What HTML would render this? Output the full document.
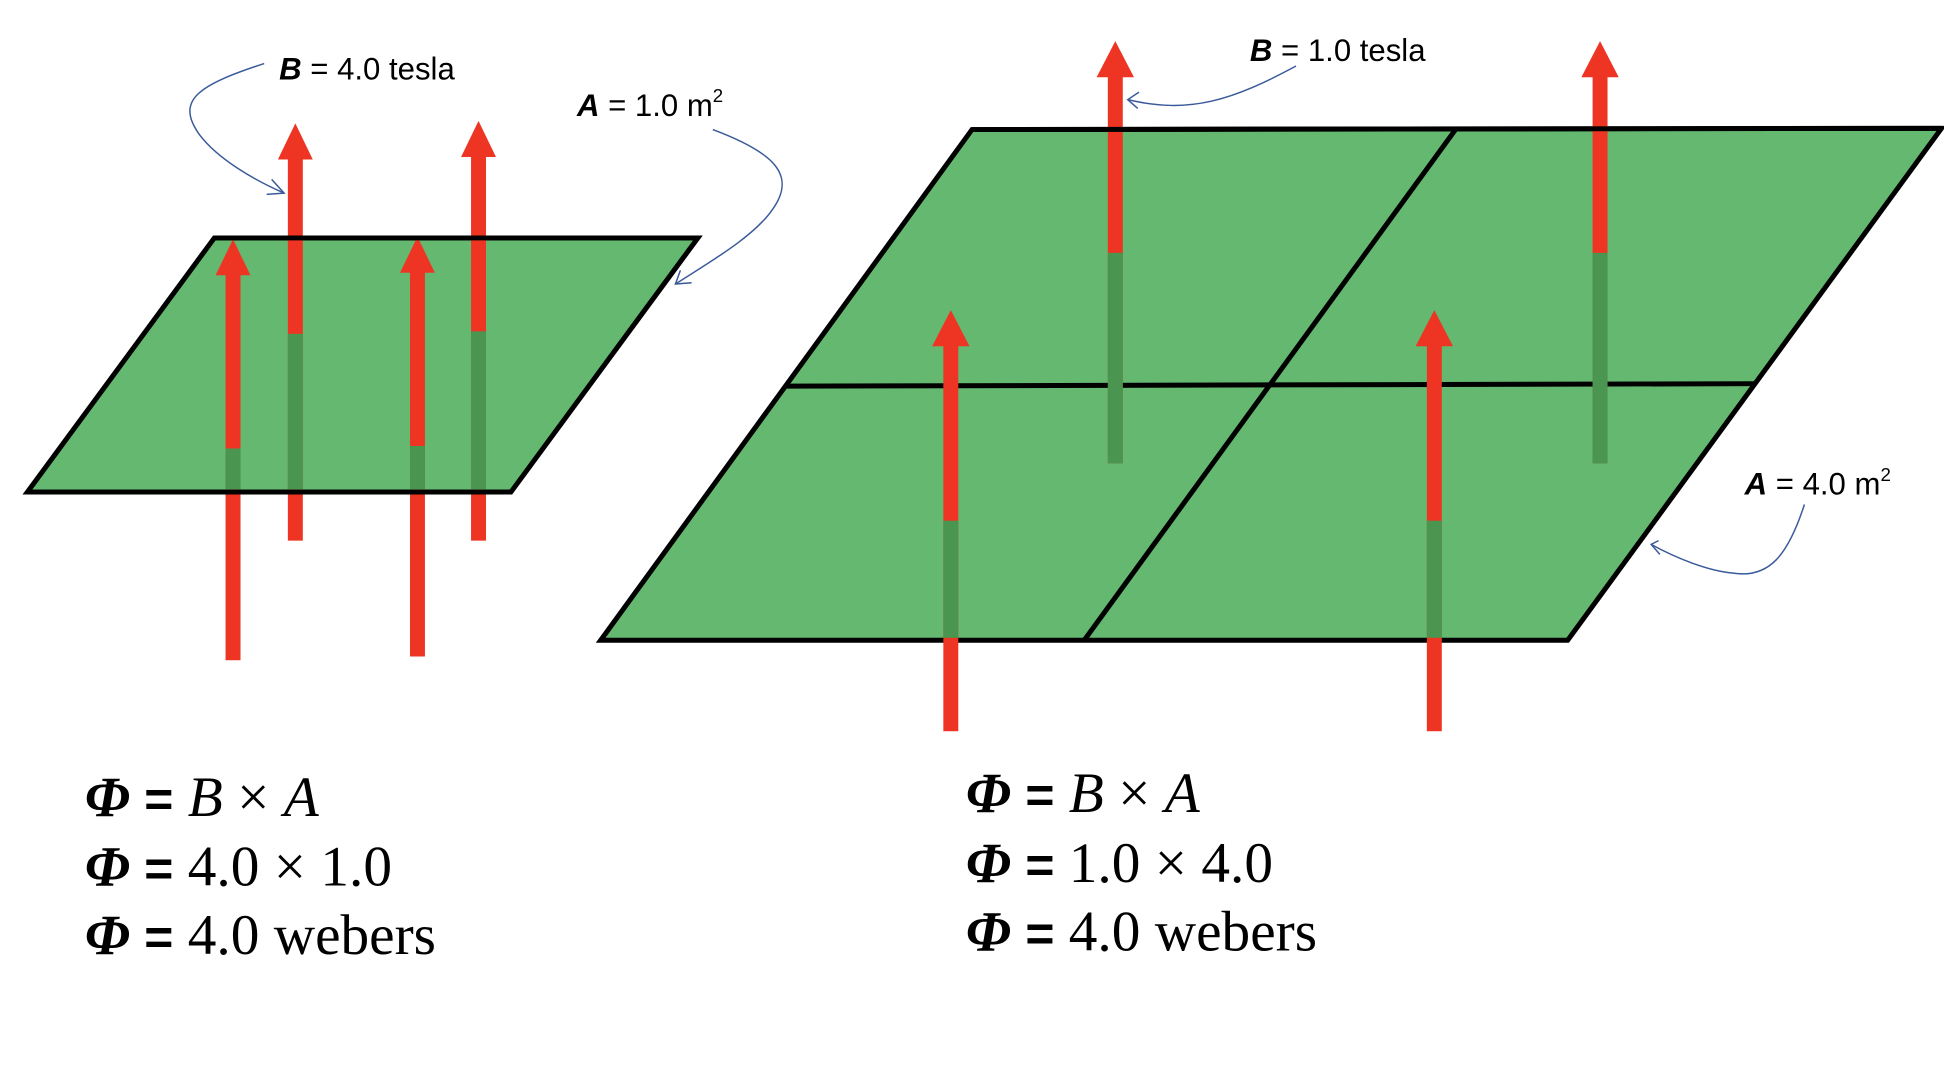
<!DOCTYPE html>
<html><head><meta charset="utf-8"><style>
html,body{margin:0;padding:0;background:#fff;}
svg{display:block}
.lab{font-family:"Liberation Sans",sans-serif;font-size:25px;fill:#000}
.f{font-family:"Liberation Serif",serif;font-size:46px;fill:#000}
</style></head><body>
<svg width="1944" height="1090" viewBox="0 0 1560 875" preserveAspectRatio="none" xmlns="http://www.w3.org/2000/svg">
<!-- left plane -->
<polygon points="172,191 560,191 410,395 22,395" fill="#64b870" stroke="#000" stroke-width="4"/>
<g fill="#ee3524">
<rect x="181" y="218" width="12" height="312"/><rect x="181" y="360" width="12" height="33" fill="#4a9650"/>
<polygon points="187,192 201,221 173,221"/>
<rect x="231" y="125" width="12" height="309"/><rect x="231" y="268" width="12" height="125" fill="#4a9650"/>
<polygon points="237,99 251,128 223,128"/>
<rect x="329" y="216" width="12" height="311"/><rect x="329" y="358" width="12" height="35" fill="#4a9650"/>
<polygon points="335,190 349,219 321,219"/>
<rect x="378" y="123" width="12" height="311"/><rect x="378" y="266" width="12" height="127" fill="#4a9650"/>
<polygon points="384,97 398,126 370,126"/>
</g>
<line x1="172" y1="191" x2="560" y2="191" stroke="#000" stroke-width="4"/>
<line x1="22" y1="395" x2="410" y2="395" stroke="#000" stroke-width="4"/>

<!-- right plane -->
<polygon points="780,104 1558,103 1258,514 482,514" fill="#64b870" stroke="#000" stroke-width="4"/>
<line x1="630" y1="310" x2="1408" y2="308" stroke="#000" stroke-width="4"/>
<line x1="1168" y1="104" x2="870" y2="514" stroke="#000" stroke-width="4"/>
<g fill="#ee3524">
<rect x="889" y="60" width="12" height="312"/><rect x="889" y="203" width="12" height="169" fill="#4a9650"/>
<polygon points="895,33 910,62 880,62"/>
<rect x="1278" y="60" width="12" height="312"/><rect x="1278" y="203" width="12" height="169" fill="#4a9650"/>
<polygon points="1284,33 1299,62 1269,62"/>
<rect x="757" y="275" width="12" height="312"/><rect x="757" y="418" width="12" height="94" fill="#4a9650"/>
<polygon points="763,249 778,278 748,278"/>
<rect x="1145" y="275" width="12" height="312"/><rect x="1145" y="418" width="12" height="94" fill="#4a9650"/>
<polygon points="1151,249 1166,278 1136,278"/>
</g>
<line x1="780" y1="104" x2="1558" y2="103" stroke="#000" stroke-width="4"/>

<g fill="none" stroke="#3a5a9a" stroke-width="1.2">
<path d="M212,51 C160,68 140,80 160,108 C175,128 205,145 228,155"/>
<path d="M218,144 L228,155 L214,156"/>
<path d="M572,104 C620,122 640,140 620,168 C605,190 570,210 542,228"/>
<path d="M546,217 L542,228 L555,227"/>
<path d="M1040,53 C990,80 955,92 905,80"/>
<path d="M914,74 L905,80 L913,87"/>
<path d="M1448,405 C1435,445 1420,465 1390,460 C1370,458 1345,448 1325,437"/>
<path d="M1331,434 L1325,437 L1332,445"/>
</g>

<text class="lab" x="224" y="64"><tspan font-weight="bold" font-style="italic">B</tspan> = 4.0 tesla</text>
<text class="lab" x="463" y="93"><tspan font-weight="bold" font-style="italic">A</tspan> = 1.0 m<tspan font-size="15" dy="-11">2</tspan></text>
<text class="lab" x="1003" y="49"><tspan font-weight="bold" font-style="italic">B</tspan> = 1.0 tesla</text>
<text class="lab" x="1400" y="397"><tspan font-weight="bold" font-style="italic">A</tspan> = 4.0 m<tspan font-size="15" dy="-11">2</tspan></text>

<text class="f" x="68" y="655"><tspan font-weight="bold" font-style="italic">Φ</tspan> <tspan font-family="Liberation Sans" font-weight="bold" font-size="40">=</tspan> <tspan font-style="italic">B</tspan> × <tspan font-style="italic">A</tspan></text>
<text class="f" x="68" y="711"><tspan font-weight="bold" font-style="italic">Φ</tspan> <tspan font-family="Liberation Sans" font-weight="bold" font-size="40">=</tspan> 4.0 × 1.0</text>
<text class="f" x="68" y="766"><tspan font-weight="bold" font-style="italic">Φ</tspan> <tspan font-family="Liberation Sans" font-weight="bold" font-size="40">=</tspan> 4.0 webers</text>
<text class="f" x="775" y="652"><tspan font-weight="bold" font-style="italic">Φ</tspan> <tspan font-family="Liberation Sans" font-weight="bold" font-size="40">=</tspan> <tspan font-style="italic">B</tspan> × <tspan font-style="italic">A</tspan></text>
<text class="f" x="775" y="708"><tspan font-weight="bold" font-style="italic">Φ</tspan> <tspan font-family="Liberation Sans" font-weight="bold" font-size="40">=</tspan> 1.0 × 4.0</text>
<text class="f" x="775" y="763"><tspan font-weight="bold" font-style="italic">Φ</tspan> <tspan font-family="Liberation Sans" font-weight="bold" font-size="40">=</tspan> 4.0 webers</text>
</svg>
</body></html>
